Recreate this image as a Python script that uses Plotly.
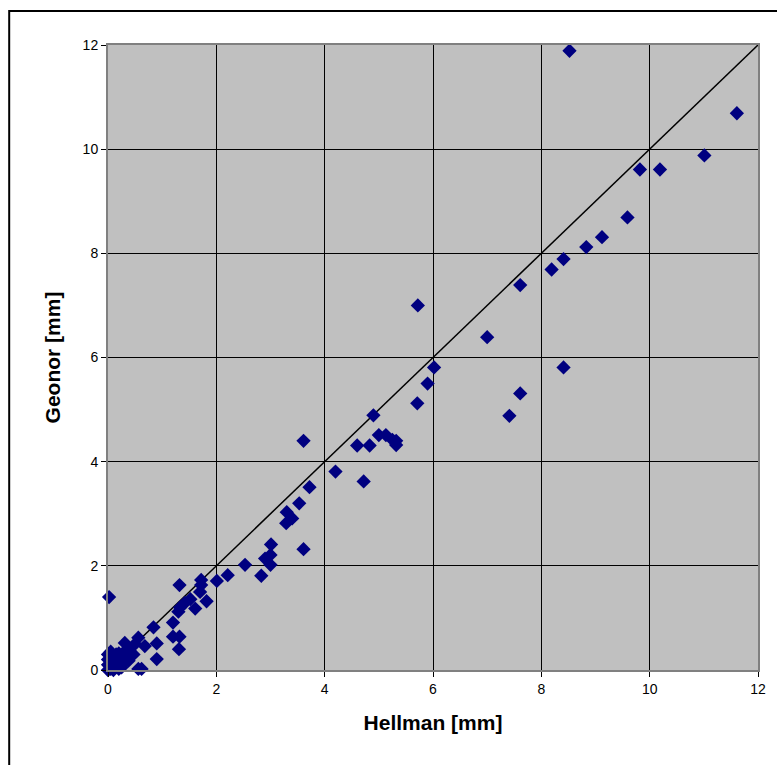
import plotly.graph_objects as go

# Hellman (x) vs Geonor (y) precipitation, mm
hellman = [8.52, 11.61, 11.01, 9.82, 10.19, 9.59, 9.12, 8.83, 8.41, 8.19, 7.61,
           5.72, 7.00, 8.41, 7.61, 7.41,
           6.02, 5.90, 5.71, 4.90, 5.00, 5.13, 5.25, 5.32, 5.32, 4.60, 4.83,
           3.61, 4.20, 4.72, 3.72, 3.53, 3.30, 3.40, 3.29, 3.61, 3.01, 2.90, 3.00, 3.00, 2.83,
           2.53, 2.21, 2.01, 1.82, 1.72, 1.72, 1.70, 1.61, 1.52, 1.42, 1.33, 1.30, 1.32,
           1.20, 1.20, 1.32, 1.31, 0.84, 0.90, 0.90, 0.56, 0.31, 0.68, 0.56, 0.62,
           0.47, 0.40, 0.50, 0.02,
           0.00, 0.00, 0.00, 0.00, 0.05, 0.10, 0.10, 0.10, 0.15, 0.20, 0.20, 0.20,
           0.25, 0.30, 0.35, 0.05, 0.12, 0.18, 0.28, 0.15, 0.25, 0.05, 0.38]
geonor = [11.89, 10.69, 9.88, 9.61, 9.61, 8.69, 8.31, 8.12, 7.89, 7.69, 7.39,
          7.00, 6.39, 5.81, 5.31, 4.88,
          5.81, 5.50, 5.12, 4.89, 4.51, 4.51, 4.42, 4.32, 4.40, 4.31, 4.31,
          4.40, 3.81, 3.62, 3.51, 3.20, 3.03, 2.91, 2.82, 2.32, 2.41, 2.14, 2.21, 2.02, 1.81,
          2.02, 1.82, 1.71, 1.32, 1.73, 1.63, 1.50, 1.18, 1.36, 1.29, 1.20, 1.12, 1.63,
          0.91, 0.64, 0.64, 0.40, 0.82, 0.51, 0.21, 0.62, 0.52, 0.46, 0.02, 0.02,
          0.30, 0.36, 0.50, 1.40,
          0.00, 0.10, 0.20, 0.30, 0.05, 0.00, 0.12, 0.25, 0.08, 0.02, 0.15, 0.32,
          0.20, 0.22, 0.40, 0.02, 0.05, 0.10, 0.12, 0.30, 0.05, 0.35, 0.18]

line_x = [0, 12]
line_y = [0, 12]

x_ticks = [0, 2, 4, 6, 8, 10, 12]
y_ticks = [0, 2, 4, 6, 8, 10, 12]

fig = go.Figure()
fig.add_trace(go.Scatter(x=line_x, y=line_y, mode="lines",
                         line=dict(color="black", width=1.5),
                         showlegend=False, hoverinfo="skip"))
fig.add_trace(go.Scatter(x=hellman, y=geonor, mode="markers",
                         marker=dict(symbol="diamond", size=11, color="#000080",
                                     line=dict(width=0)),
                         cliponaxis=False, showlegend=False))

font = "Liberation Sans, Arial, sans-serif"
axis_common = dict(range=[0, 12], tickvals=x_ticks, showgrid=True,
                   gridcolor="black", gridwidth=1, zeroline=False,
                   showline=True, linecolor="#808080", linewidth=2, mirror=True,
                   ticks="outside", ticklen=5, tickcolor="black",
                   tickfont=dict(family=font, size=14, color="black"))

fig.update_xaxes(**axis_common,
                 title=dict(text="<b>Hellman [mm]</b>",
                            font=dict(family=font, size=21, color="black"),
                            standoff=20))
fig.update_yaxes(**{**axis_common, "tickvals": y_ticks},
                 title=dict(text="<b>Geonor [mm]</b>",
                            font=dict(family=font, size=21, color="black"),
                            standoff=16))

fig.add_shape(type="rect", xref="paper", yref="paper",
              x0=-0.152, x1=1.06, y0=-0.2, y1=1.0544,
              line=dict(color="black", width=2), fillcolor="rgba(0,0,0,0)",
              layer="below")

fig.update_layout(width=777, height=765,
                  margin=dict(l=108, r=19, t=45, b=95),
                  plot_bgcolor="#c0c0c0", paper_bgcolor="white",
                  font=dict(family=font, color="black"))

fig.write_html("out.html")
